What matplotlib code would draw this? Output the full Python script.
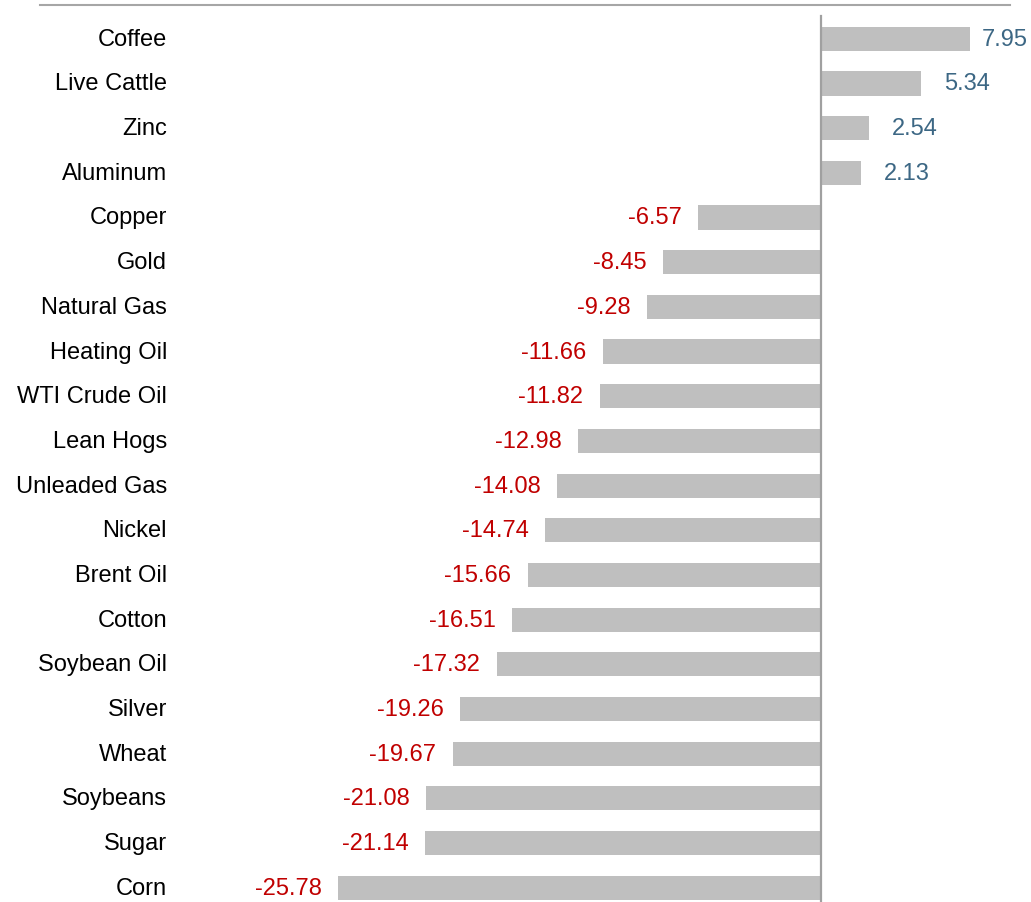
import numpy as np
from matplotlib import pyplot as plt

plt.rcParams['font.family'] = ['Liberation Sans', 'DejaVu Sans']

# data
names = ['Coffee', 'Live Cattle', 'Zinc', 'Aluminum', 'Copper', 'Gold',
         'Natural Gas', 'Heating Oil', 'WTI Crude Oil', 'Lean Hogs',
         'Unleaded Gas', 'Nickel', 'Brent Oil', 'Cotton', 'Soybean Oil',
         'Silver', 'Wheat', 'Soybeans', 'Sugar', 'Corn']
values = [7.95, 5.34, 2.54, 2.13, -6.57, -8.45, -9.28, -11.66, -11.82, -12.98,
          -14.08, -14.74, -15.66, -16.51, -17.32, -19.26, -19.67, -21.08,
          -21.14, -25.78]

fig = plt.figure(figsize=(10.31, 9.03), dpi=100)
ax = fig.add_axes([0, 0, 1, 1])

y = np.arange(len(names))
ax.barh(y, values, height=0.54, color='#bfbfbf', zorder=2)

xmin, xmax = -43.86, 11.22
ax.set_xlim(xmin, xmax)
ax.set_ylim(19.32, -0.89)
ax.axis('off')

# zero line and top rule
ax.plot([0, 0], [-0.5, 19.5], color='#a0a0a0', lw=1.6, zorder=3)
ax.plot([-41.72, 10.1], [-0.76, -0.76], color='#a6a6a6', lw=1.5, zorder=3)

fs = 17
for yi, n, v in zip(y, names, values):
    ax.text(-34.94, yi, n, ha='right', va='center', fontsize=fs, color='black')
    lab = '%.2f' % v
    if v >= 0:
        xt = v + 1.25
        if xt + 3.5 > 11.05:
            ax.text(11.05, yi, lab, ha='right', va='center', fontsize=fs, color='#3c6784')
        else:
            ax.text(xt, yi, lab, ha='left', va='center', fontsize=fs, color='#3c6784')
    else:
        ax.text(v - 0.88, yi, lab, ha='right', va='center', fontsize=fs, color='#c00000')

plt.savefig('out.png', dpi=100)
